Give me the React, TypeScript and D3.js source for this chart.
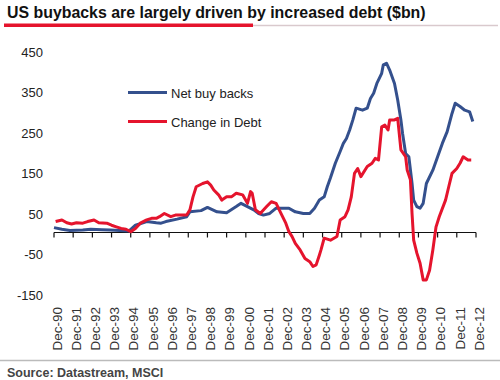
import React from "react";
import * as d3 from "d3";

const title = "US buybacks are largely driven by increased debt ($bn)";
const source = "Source: Datastream, MSCI";
const seriesNames = ["Net buy backs", "Change in Debt"];
const yTicks = [-150, -50, 50, 150, 250, 350, 450];
const xTickYears = d3.range(1990, 2013);

const netBuybacks: [string, number][] = [
  ["1990-12", 12], ["1991-05", 8], ["1991-10", 5], ["1992-06", 6], ["1992-11", 8],
  ["1993-06", 7], ["1993-11", 6], ["1994-11", 4], ["1995-03", 18], ["1995-10", 27],
  ["1996-04", 24], ["1996-07", 23], ["1996-10", 27], ["1997-05", 33], ["1997-11", 39],
  ["1998-01", 51], ["1998-08", 54], ["1998-12", 62], ["1999-06", 51], ["1999-12", 49],
  ["2000-06", 64], ["2000-09", 72], ["2001-01", 64], ["2001-05", 56], ["2001-08", 47],
  ["2001-11", 43], ["2002-03", 47], ["2002-07", 60], ["2003-03", 60], ["2003-07", 51],
  ["2003-12", 47], ["2004-04", 47], ["2004-07", 60], ["2004-10", 80], ["2005-01", 88],
  ["2005-03", 113], ["2005-05", 135], ["2005-08", 171], ["2005-11", 200], ["2006-01", 220],
  ["2006-03", 232], ["2006-05", 253], ["2006-07", 278], ["2006-09", 307], ["2007-01", 302],
  ["2007-04", 307], ["2007-06", 331], ["2007-08", 344], ["2007-10", 368], ["2008-01", 393],
  ["2008-02", 414], ["2008-04", 418], ["2008-06", 401], ["2008-09", 368], ["2008-11", 327],
  ["2009-01", 278], ["2009-02", 245], ["2009-04", 195], ["2009-06", 187], ["2009-08", 121],
  ["2009-09", 80], ["2009-11", 64], ["2010-01", 60], ["2010-03", 72], ["2010-05", 121],
  ["2010-09", 154], ["2010-12", 187], ["2011-03", 220], ["2011-06", 249], ["2011-09", 294],
  ["2011-11", 319], ["2012-02", 311], ["2012-05", 302], ["2012-08", 298], ["2012-10", 274],
];

const changeInDebt: [string, number][] = [
  ["1991-01", 27], ["1991-05", 31], ["1991-08", 24], ["1991-11", 21], ["1992-02", 24],
  ["1992-06", 23], ["1992-09", 27], ["1993-01", 31], ["1993-04", 24], ["1993-09", 23],
  ["1993-12", 18], ["1994-03", 14], ["1994-06", 10], ["1994-09", 8], ["1994-12", 2],
  ["1995-03", 10], ["1995-06", 23], ["1995-10", 31], ["1996-01", 35], ["1996-04", 35],
  ["1996-06", 39], ["1996-09", 47], ["1997-01", 39], ["1997-04", 43], ["1997-07", 43],
  ["1997-11", 43], ["1998-01", 56], ["1998-03", 88], ["1998-05", 113], ["1998-09", 121],
  ["1998-12", 125], ["1999-02", 117], ["1999-04", 105], ["1999-07", 93], ["1999-09", 80],
  ["1999-12", 88], ["2000-03", 88], ["2000-06", 97], ["2000-10", 93], ["2001-01", 72],
  ["2001-03", 101], ["2001-04", 97], ["2001-06", 56], ["2001-09", 47], ["2002-01", 64],
  ["2002-04", 76], ["2002-07", 72], ["2002-10", 47], ["2003-01", 23], ["2003-03", 2],
  ["2003-05", -10], ["2003-07", -27], ["2003-10", -43], ["2004-01", -64], ["2004-04", -72],
  ["2004-06", -84], ["2004-08", -80], ["2004-10", -56], ["2004-11", -43], ["2005-01", -14],
  ["2005-05", -19], ["2005-09", -10], ["2005-11", 31], ["2006-02", 39], ["2006-04", 56],
  ["2006-06", 88], ["2006-08", 146], ["2006-10", 158], ["2006-12", 138], ["2007-04", 163],
  ["2007-07", 171], ["2007-09", 183], ["2007-11", 179], ["2008-01", 261], ["2008-03", 265],
  ["2008-05", 253], ["2008-06", 278], ["2008-09", 278], ["2008-11", 282], ["2009-01", 204],
  ["2009-04", 187], ["2009-05", 154], ["2009-07", 130], ["2009-08", 47], ["2009-09", -19],
  ["2009-11", -51], ["2010-01", -76], ["2010-03", -117], ["2010-05", -117], ["2010-07", -93],
  ["2010-09", -43], ["2010-11", 14], ["2011-01", 39], ["2011-05", 80], ["2011-07", 113],
  ["2011-09", 146], ["2011-12", 158], ["2012-02", 171], ["2012-04", 187], ["2012-07", 179],
  ["2012-09", 179],
];

const BLUE = "#34508d";
const RED = "#e5142d";
const FONT = "Liberation Sans, Arial, sans-serif";

const parse = d3.timeParse("%Y-%m");

export default function App() {
  const W = 500, H = 380;
  const x = d3.scaleTime()
    .domain([new Date(1990, 11, 1), new Date(2012, 11, 1)])
    .range([54, 476]);
  const y = d3.scaleLinear().domain([0, 450]).range([232.5, 50.25]);

  const line = d3.line<[string, number]>()
    .x(d => x(parse(d[0]) as Date))
    .y(d => y(d[1]));

  return (
    <svg width={W} height={H} style={{ position: "absolute", left: 0, top: 0, background: "#fff" }}
      fontFamily={FONT}>
      <rect width={W} height={H} fill="#fff" />
      <text x={7} y={17.5} fontSize={15.9} fontWeight="bold" fill="#111">{title}</text>
      <line x1={253} x2={498} y1={25.5} y2={25.5} stroke="#d9c9cd" strokeWidth={1.5} />
      <line x1={4} x2={253} y1={25.3} y2={25.3} stroke={RED} strokeWidth={3.5} />

      {yTicks.map(v => (
        <text key={v} x={43} y={y(v) + 2} dy="0.35em" textAnchor="end" fontSize={13} fill="#222">{v}</text>
      ))}

      <line x1={x(new Date(1990, 11, 1))} x2={x(new Date(2012, 11, 1))} y1={y(0)} y2={y(0)} stroke="#111" strokeWidth={1.2} />
      {xTickYears.map(yr => {
        const px = x(new Date(yr, 11, 1));
        return (
          <g key={yr}>
            <line x1={px} x2={px} y1={y(0)} y2={y(0) + 5} stroke="#111" strokeWidth={1.2} />
            <text transform={`translate(${px + 3},307) rotate(-90)`} dy="0.35em" textAnchor="end"
              fontSize={13.5} fill="#333">{`Dec-${String(yr % 100).padStart(2, "0")}`}</text>
          </g>
        );
      })}

      <path d={line(netBuybacks) || ""} fill="none" stroke={BLUE} strokeWidth={3} strokeLinejoin="round" />
      <path d={line(changeInDebt) || ""} fill="none" stroke={RED} strokeWidth={3} strokeLinejoin="round" />

      <line x1={128} x2={167} y1={92.5} y2={92.5} stroke={BLUE} strokeWidth={3} />
      <text x={171} y={93} dy="0.35em" fontSize={13} fill="#222">{seriesNames[0]}</text>
      <line x1={128} x2={167} y1={121.5} y2={121.5} stroke={RED} strokeWidth={3} />
      <text x={171} y={122} dy="0.35em" fontSize={13} fill="#222">{seriesNames[1]}</text>

      <line x1={0} x2={500} y1={360.5} y2={360.5} stroke="#bbb" strokeWidth={1.5} />
      <text x={7} y={377} fontSize={12.5} fontWeight="bold" fill="#444">{source}</text>
    </svg>
  );
}
